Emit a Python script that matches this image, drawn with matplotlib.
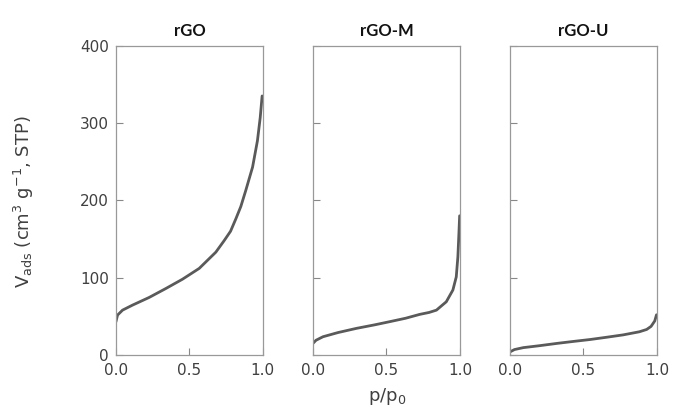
import numpy as np
import matplotlib
matplotlib.use('Agg')
import matplotlib.pyplot as plt

plt.rcParams['font.family'] = ['DejaVu Sans']

titulos = ['rGO', 'rGO-M', 'rGO-U']

# isotermas
p_rgo = [0.0, 0.011, 0.045, 0.113, 0.226, 0.34, 0.453, 0.567, 0.68, 0.737,
         0.78, 0.816, 0.85, 0.884, 0.93, 0.963, 0.982, 0.995]
v_rgo = [43, 51.6, 58, 64.5, 74.4, 86, 98, 112, 133, 148,
         160, 176, 192, 213, 243, 277, 307, 335]

p_rgom = [0.0, 0.02, 0.068, 0.17, 0.295, 0.42, 0.52, 0.63, 0.726, 0.79, 0.84,
          0.907, 0.952, 0.975, 0.986, 0.993, 0.998]
v_rgom = [15, 19, 23.6, 29, 34.4, 39, 43, 47.5, 52.5, 55, 58,
          68.8, 84, 101, 127, 157, 180]

p_rgou = [0.0, 0.03, 0.09, 0.2, 0.32, 0.43, 0.545, 0.66, 0.77, 0.88, 0.93, 0.96, 0.985, 0.997]
v_rgou = [4, 7, 9.5, 12, 15, 17.5, 20, 23, 26, 30, 33, 37, 44, 52]

dados = [(p_rgo, v_rgo), (p_rgom, v_rgom), (p_rgou, v_rgou)]

fig = plt.figure(figsize=(6.74, 4.2), dpi=100)
lefts = [0.172, 0.4644, 0.7567]
cinza = '#404040'

for i, (x, y) in enumerate(dados):
    ax = fig.add_axes([lefts[i], 0.1548, 0.218, 0.7364])
    ax.plot(x, y, color='#5a5a5a', lw=2.0, solid_capstyle='round', solid_joinstyle='round')
    ax.set_xlim(0, 1)
    ax.set_ylim(0, 400)
    ax.set_xticks([0, 0.5, 1.0])
    ax.set_xticklabels(['0.0', '0.5', '1.0'])
    ax.set_yticks([0, 100, 200, 300, 400])
    ax.tick_params(direction='in', length=5, width=0.8, color='#888888',
                   labelsize=11, labelcolor=cinza)
    ax.tick_params(axis='x', pad=6)
    ax.tick_params(axis='y', pad=5)
    for s in ax.spines.values():
        s.set_color('#999999')
        s.set_linewidth(0.9)
    if i > 0:
        ax.set_yticklabels([])
    ax.set_title(titulos[i], fontsize=12, fontweight='bold', color='#111111', pad=7,
                 family=['Lato', 'DejaVu Sans'])

fig.text(0.035, 0.52, r'V$_{\mathregular{ads}}$ (cm$^{\mathregular{3}}$ g$^{\mathregular{-1}}$, STP)',
         rotation=90, ha='center', va='center', fontsize=13, color=cinza)
fig.text(0.574, 0.055, r'p/p$_{\mathregular{0}}$', ha='center', va='center',
         fontsize=13, color=cinza)

plt.savefig('out.png', dpi=100)
